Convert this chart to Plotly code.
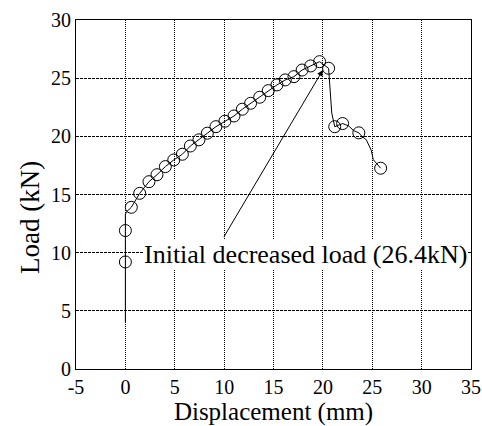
import plotly.graph_objects as go

# Full load-displacement path (line)
disp_line = [0, 0, 0, 0, 0.1, 0.6, 1.45, 2.39, 3.2, 4.05, 4.9, 5.77, 6.58, 7.45, 8.3, 9.17,
             10.08, 11.0, 11.84, 12.68, 13.6, 14.47, 15.35, 16.19, 17.07, 17.9, 18.76, 19.67,
             20.58, 20.7, 20.9, 21.2, 22.0, 22.6, 23.1, 23.64, 23.95, 24.4, 24.9, 25.1, 25.85]
load_line = [4.0, 9.2, 11.9, 13.3, 13.5, 13.9, 15.1, 16.1, 16.7, 17.4, 17.97, 18.46, 19.17, 19.7,
             20.27, 20.83, 21.3, 21.75, 22.33, 22.84, 23.36, 23.93, 24.42, 24.85, 25.13, 25.7,
             26.05, 26.42, 25.85, 24.5, 22.0, 20.83, 21.1, 20.9, 20.5, 20.3, 20.0, 19.7, 18.8,
             18.0, 17.26]

# Marked test points
disp_mark = [0, 0, 0.6, 1.45, 2.39, 3.2, 4.05, 4.9, 5.77, 6.58, 7.45, 8.3, 9.17, 10.08, 11.0,
             11.84, 12.68, 13.6, 14.47, 15.35, 16.19, 17.07, 17.9, 18.76, 19.67, 20.58, 21.2,
             22.0, 23.64, 25.85]
load_mark = [9.2, 11.9, 13.9, 15.1, 16.1, 16.7, 17.4, 17.97, 18.46, 19.17, 19.7, 20.27, 20.83,
             21.3, 21.75, 22.33, 22.84, 23.36, 23.93, 24.42, 24.85, 25.13, 25.7, 26.05, 26.42,
             25.85, 20.83, 21.1, 20.3, 17.26]

x_ticks = [-5, 0, 5, 10, 15, 20, 25, 30, 35]
y_ticks = [0, 5, 10, 15, 20, 25, 30]

annot_text = "Initial decreased load (26.4kN)"
annot_tip = (20.0, 25.7)
annot_tail = (9.9, 11.25)
annot_label_pos = (18.25, 9.8)

FONT = "Liberation Serif"

fig = go.Figure()
fig.add_trace(go.Scatter(x=disp_line, y=load_line, mode="lines",
                         line=dict(color="black", width=1), showlegend=False,
                         hoverinfo="skip"))
fig.add_trace(go.Scatter(x=disp_mark, y=load_mark, mode="markers",
                         marker=dict(symbol="circle-open", size=12,
                                     color="black", line=dict(width=1)),
                         showlegend=False))

fig.add_annotation(x=annot_tip[0], y=annot_tip[1], ax=annot_tail[0], ay=annot_tail[1],
                   xref="x", yref="y", axref="x", ayref="y", text="",
                   showarrow=True, arrowhead=2, arrowsize=1.2, arrowwidth=1,
                   arrowcolor="black")
fig.add_annotation(x=annot_label_pos[0], y=annot_label_pos[1], xref="x", yref="y",
                   text=annot_text, showarrow=False, bgcolor="white",
                   font=dict(family=FONT, size=26, color="black"), borderpad=0)

fig.add_annotation(x=-0.116, y=0.433, xref="paper", yref="paper", text="Load (kN)",
                   textangle=-90, showarrow=False, xanchor="center", yanchor="middle",
                   font=dict(family=FONT, size=27, color="black"))

fig.update_layout(
    width=482, height=426,
    margin=dict(l=76, r=11, t=20, b=57, autoexpand=False),
    paper_bgcolor="white", plot_bgcolor="white",
    font=dict(family=FONT, color="black"),
)
fig.update_xaxes(range=[-5, 35], tickvals=x_ticks, ticktext=[str(v) for v in x_ticks],
                 showgrid=True, gridcolor="black", gridwidth=1, griddash="1px,1px",
                 showline=True, linecolor="black", linewidth=1, mirror=True,
                 zeroline=False, ticks="", tickfont=dict(family=FONT, size=20),
                 title=dict(text="Displacement (mm)", font=dict(family=FONT, size=25),
                            standoff=2))
fig.update_yaxes(range=[0, 30], tickvals=y_ticks, ticktext=[str(v) for v in y_ticks],
                 showgrid=True, gridcolor="black", gridwidth=1, griddash="3px,1px",
                 showline=True, linecolor="black", linewidth=1, mirror=True,
                 zeroline=False, ticks="", tickfont=dict(family=FONT, size=20))

fig.write_html("out.html", config={"displayModeBar": False},
               post_script="document.body.style.margin='0';document.body.style.overflow='hidden';")
